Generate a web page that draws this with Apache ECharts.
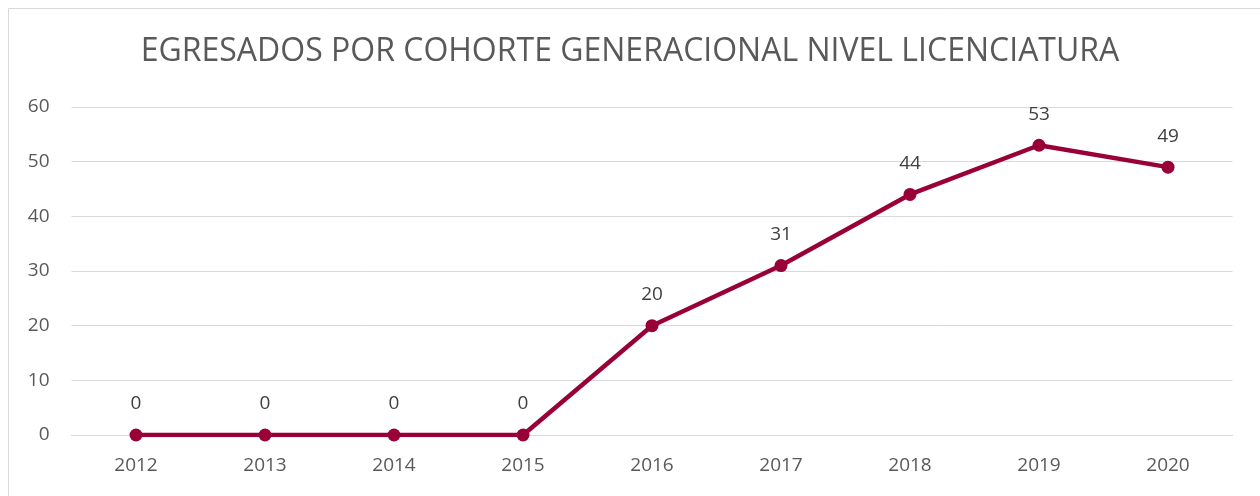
<!DOCTYPE html>
<html><head><meta charset="utf-8">
<script src="https://cdn.jsdelivr.net/npm/echarts@6/dist/echarts.min.js"></script>
<style>html,body{margin:0;padding:0;background:#fff}#c{width:1260px;height:496px}</style>
</head><body><div id="c"></div>
<script>
const categories = ['2012','2013','2014','2015','2016','2017','2018','2019','2020'];
const egresados = [0,0,0,0,20,31,44,53,49];
const titleText = 'EGRESADOS POR COHORTE GENERACIONAL NIVEL LICENCIATURA';
const chart = echarts.init(document.getElementById('c'));
const font = 'Open Sans';
chart.setOption({
  animation:false,
  backgroundColor:'#fff',
  graphic:[{type:'rect',shape:{x:8.5,y:8.5,width:1300,height:600},style:{fill:'none',stroke:'#d9d9d9',lineWidth:1},silent:true}],
  title:{text:titleText,left:'center',top:31,textStyle:{fontFamily:font,fontSize:32,fontWeight:'normal',color:'#595959'}},
  grid:{left:71.5,right:27.5,top:107,bottom:61,containLabel:false},
  xAxis:{type:'category',data:categories,boundaryGap:true,
    axisLine:{lineStyle:{color:'#d9d9d9',width:1}},axisTick:{show:false},
    axisLabel:{fontFamily:font,fontSize:19,color:'#595959',margin:21}},
  yAxis:{type:'value',min:0,max:60,interval:10,
    axisLine:{show:false},axisTick:{show:false},
    splitLine:{lineStyle:{color:'#d9d9d9',width:1}},
    axisLabel:{fontFamily:font,fontSize:19,color:'#595959',margin:22}},
  series:[{type:'line',data:egresados,symbol:'circle',symbolSize:13,
    lineStyle:{color:'#990038',width:4.5},itemStyle:{color:'#990038'},
    label:{show:true,position:'top',distance:15,fontFamily:font,fontSize:19,color:'#404040'}}]
});
</script></body></html>
